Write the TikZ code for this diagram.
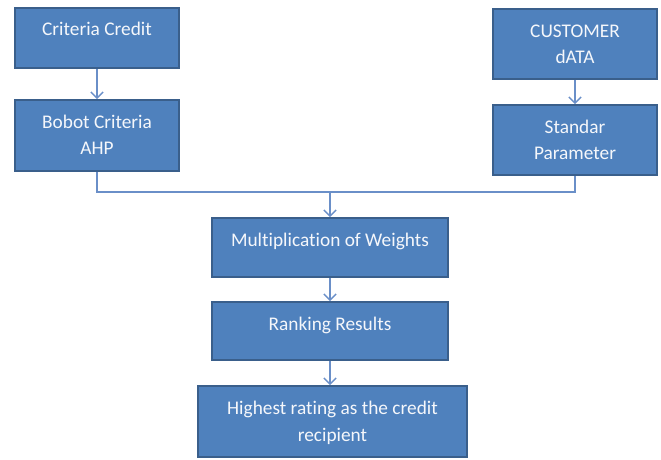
\documentclass[tikz,border=0pt]{standalone}
\usepackage{fontspec}
\setmainfont[Ligatures=NoCommon]{Carlito}
\usepackage{tikz}
\usetikzlibrary{arrows.meta}
\definecolor{boxfill}{HTML}{4F81BD}
\definecolor{boxline}{HTML}{3A5F8B}
\definecolor{linkline}{HTML}{6A8FC8}

\begin{document}
\begin{tikzpicture}[x=0.02cm, y=-0.02cm]
        \tikzset{box/.style = {shape=rectangle, draw=boxline, line width=1pt, fill=boxfill,
            text=white!94!boxfill, align=center, inner ysep=0pt, text height=0.56cm,
            font=\fontsize{11}{15.3}\selectfont}}
        \tikzset{twoline/.style = {text height=1.10cm}}
        \tikzset{link/.style = {draw=linkline, line width=0.8pt, -{Straight Barb[length=3.5pt,width=7pt]}}}
        \useasboundingbox (0,0) rectangle (661,459);
        \node[box, minimum width=3.28cm, text depth=0.64cm] (crit) at (97,38) {Criteria Credit};
        \node[box, twoline, minimum width=3.28cm, text depth=0.32cm] (bobot) at (97,135.5) {Bobot Criteria\\AHP};
        \node[box, twoline, minimum width=3.28cm, text depth=0.30cm] (cust) at (575,44) {CUSTOMER\\dATA};
        \node[box, twoline, minimum width=3.28cm, text depth=0.30cm] (param) at (575,140) {Standar\\Parameter};
        \node[box, minimum width=4.72cm, text depth=0.62cm] (mult) at (330,247.5) {Multiplication of Weights};
        \node[box, minimum width=4.72cm, text depth=0.60cm] (rank) at (330,331) {Ranking Results};
        \node[box, twoline, minimum width=5.38cm, text depth=0.32cm] (high) at (332.5,421.5) {Highest rating as the credit\\recipient};
        \coordinate (join) at (330,192);
        \draw[link] (crit) to (bobot);
        \draw[link] (cust) to (param);
        \draw[draw=linkline, line width=0.8pt] (bobot.south) |- (join);
        \draw[draw=linkline, line width=0.8pt] (param.south) |- (join);
        \draw[link] (join) to (mult.north);
        \draw[link] (mult) to (rank);
        \draw[link] (rank.south) to (rank.south |- high.north);
      \end{tikzpicture}
\end{document}
